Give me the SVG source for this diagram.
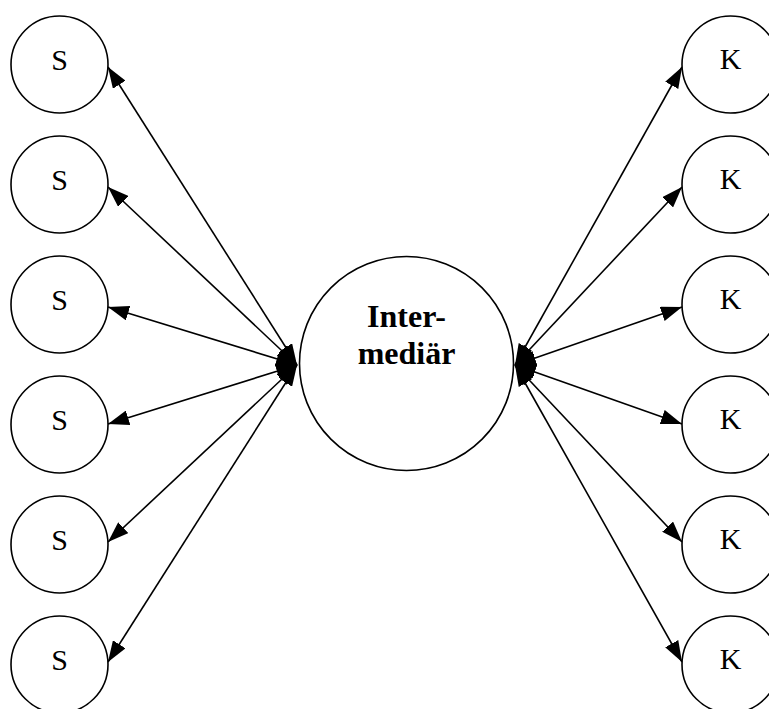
<svg xmlns="http://www.w3.org/2000/svg" width="769" height="709" viewBox="0 0 769 709">
<style>
.node{fill:#fff;stroke:#000;stroke-width:1.6}
.lbl{font-family:"Liberation Serif","Times New Roman",serif;font-size:30px;fill:#000;text-anchor:middle}
.big{font-family:"Liberation Serif","Times New Roman",serif;font-size:32px;font-weight:bold;fill:#000;text-anchor:middle}
.edge{stroke:#000;stroke-width:1.6;fill:none;marker-start:url(#ah);marker-end:url(#ah)}
</style>
<defs>
<marker id="ah" viewBox="0 0 21 15" refX="21" refY="7.5" markerWidth="21" markerHeight="15" markerUnits="userSpaceOnUse" orient="auto-start-reverse">
<path d="M0,0 L21,7.5 L0,15 z" fill="#000"/>
</marker>
</defs>
<g id="connectors">
<line class="edge" x1="297" y1="365" x2="108" y2="67"/>
<line class="edge" x1="297" y1="365" x2="108" y2="187"/>
<line class="edge" x1="297" y1="365" x2="108" y2="307"/>
<line class="edge" x1="297" y1="365" x2="108" y2="424"/>
<line class="edge" x1="297" y1="365" x2="108" y2="542"/>
<line class="edge" x1="297" y1="365" x2="108" y2="662"/>
<line class="edge" x1="515" y1="365" x2="682" y2="67"/>
<line class="edge" x1="515" y1="365" x2="682" y2="187"/>
<line class="edge" x1="515" y1="365" x2="682" y2="307"/>
<line class="edge" x1="515" y1="365" x2="682" y2="424"/>
<line class="edge" x1="515" y1="365" x2="682" y2="542"/>
<line class="edge" x1="515" y1="365" x2="682" y2="662"/>
</g>
<g id="intermediar">
<circle class="node" cx="406.5" cy="363.5" r="107"/>
<text class="big" x="406.5" y="327">Inter-</text>
<text class="big" x="406.5" y="364">mediär</text>
</g>
<g id="s1"><circle class="node" cx="59.5" cy="64.5" r="48.5"/><text class="lbl" x="59.5" y="69.5">S</text></g>
<g id="s2"><circle class="node" cx="59.5" cy="184.5" r="48.5"/><text class="lbl" x="59.5" y="189.5">S</text></g>
<g id="s3"><circle class="node" cx="59.5" cy="304.5" r="48.5"/><text class="lbl" x="59.5" y="309.5">S</text></g>
<g id="s4"><circle class="node" cx="59.5" cy="424.5" r="48.5"/><text class="lbl" x="59.5" y="429.5">S</text></g>
<g id="s5"><circle class="node" cx="59.5" cy="544.5" r="48.5"/><text class="lbl" x="59.5" y="549.5">S</text></g>
<g id="s6"><circle class="node" cx="59.5" cy="664.5" r="48.5"/><text class="lbl" x="59.5" y="669.5">S</text></g>
<g id="k1"><circle class="node" cx="730.5" cy="64.5" r="48.5"/><text class="lbl" x="730.5" y="69">K</text></g>
<g id="k2"><circle class="node" cx="730.5" cy="184.5" r="48.5"/><text class="lbl" x="730.5" y="189">K</text></g>
<g id="k3"><circle class="node" cx="730.5" cy="304.5" r="48.5"/><text class="lbl" x="730.5" y="309">K</text></g>
<g id="k4"><circle class="node" cx="730.5" cy="424.5" r="48.5"/><text class="lbl" x="730.5" y="429">K</text></g>
<g id="k5"><circle class="node" cx="730.5" cy="544.5" r="48.5"/><text class="lbl" x="730.5" y="549">K</text></g>
<g id="k6"><circle class="node" cx="730.5" cy="664.5" r="48.5"/><text class="lbl" x="730.5" y="669">K</text></g>
</svg>
